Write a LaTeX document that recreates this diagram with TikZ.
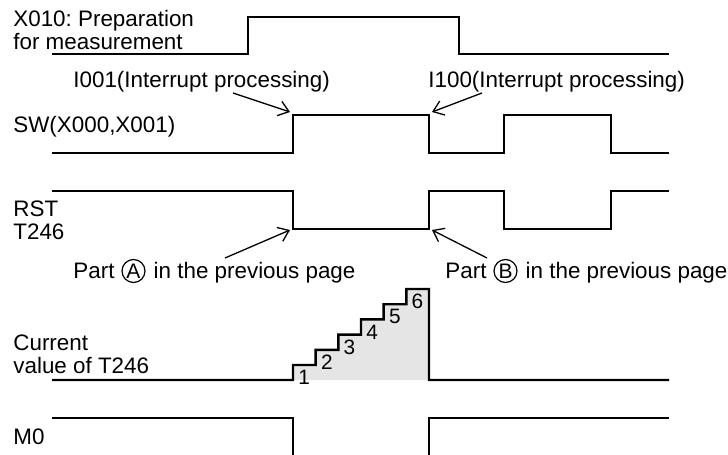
\documentclass[tikz,border=0pt]{standalone}
\usepackage{fontspec}
\setmainfont{Liberation Sans}
\usetikzlibrary{arrows.meta}
\frenchspacing
\tikzset{
  sig/.style={line width=1.2pt},
  lbl/.style={inner sep=0pt, font=\fontsize{11.2}{11.15}\selectfont, align=left},
  note/.style={line width=0.65pt, >={Straight Barb[length=5pt,width=7.5pt]}, ->},
  circ/.style={draw, circle, line width=0.6pt, inner sep=0pt, minimum size=11.5pt,
    font=\fontsize{10.5}{10.5}\selectfont},
  num/.style={inner sep=0pt, font=\fontsize{10.4}{10.4}\selectfont},
  stairfill/.style={fill=black!10}
}
\begin{document}
\begin{tikzpicture}[x=0.5pt, y=-0.5pt]
  \useasboundingbox (0,0) rectangle (728,455);
  % Signalnamen
  \node[lbl, anchor=base west] (x010) at (13,49) {X010: Preparation\\for measurement};
  \node[lbl, anchor=base west] (sw) at (13,132) {SW(X000,X001)};
  \node[lbl, anchor=base west] (rst) at (13,239) {RST\\T246};
  \node[lbl, anchor=base west] (cur) at (13,373) {Current\\value of T246};
  \node[lbl, anchor=base west] (m0) at (13,444) {M0};
  % X010
  \draw[sig] (52,54) -- (248,54) -- (248,17) -- (459,17) -- (459,54) -- (669,54);
  % SW
  \draw[sig] (52,153) -- (293,153) -- (293,115) -- (429,115) -- (429,153)
    -- (504,153) -- (504,115) -- (611,115) -- (611,153) -- (669,153);
  % RST T246
  \draw[sig] (52,191) -- (293,191) -- (293,229) -- (429,229) -- (429,191)
    -- (504,191) -- (504,229) -- (611,229) -- (611,191) -- (669,191);
  % Zaehlerwert (Treppe)
  \fill[stairfill] (293,380)
    \foreach \i in {0,...,5} { -- (293+22.667*\i,365-15.2*\i) -- (315.667+22.667*\i,365-15.2*\i) }
    -- (429,380) -- cycle;
  \draw[sig] (52,380) -- (293,380)
    \foreach \i in {0,...,5} { -- (293+22.667*\i,365-15.2*\i) -- (315.667+22.667*\i,365-15.2*\i) }
    -- (429,380) -- (669,380);
  \foreach \i in {1,...,6}
    \node[num] (n\i) at (281.5+22.667*\i,392.7-15.2*\i) {\i};
  % M0
  \draw[sig] (52,418) -- (293,418) -- (293,455);
  \draw[sig] (429,455) -- (429,418) -- (669,418);
  % Interrupts
  \node[lbl, anchor=base west] (i001) at (73,87) {I001(Interrupt processing)};
  \node[lbl, anchor=base west] (i100) at (428,87) {I100(Interrupt processing)};
  \coordinate (i001s) at (233,93);
  \coordinate (i001e) at (290,112);
  \coordinate (i100s) at (482,93);
  \coordinate (i100e) at (432,112);
  \draw[note] (i001s) -- (i001e);
  \draw[note] (i100s) -- (i100e);
  % Teil A / Teil B
  \node[lbl, anchor=base west] (partA) at (73,278) {Part};
  \node[circ] (circA) at (133.5,271) {A};
  \node[lbl, anchor=base west] (prevA) at (153.3,278) {in the previous page};
  \node[lbl, anchor=base west] (partB) at (445,278) {Part};
  \node[circ] (circB) at (505.5,271) {B};
  \node[lbl, anchor=base west] (prevB) at (525.3,278) {in the previous page};
  \coordinate (partAs) at (225,258);
  \coordinate (partAe) at (290,230);
  \coordinate (partBs) at (487,258);
  \coordinate (partBe) at (432,230);
  \draw[note] (partAs) -- (partAe);
  \draw[note] (partBs) -- (partBe);
\end{tikzpicture}
\end{document}
